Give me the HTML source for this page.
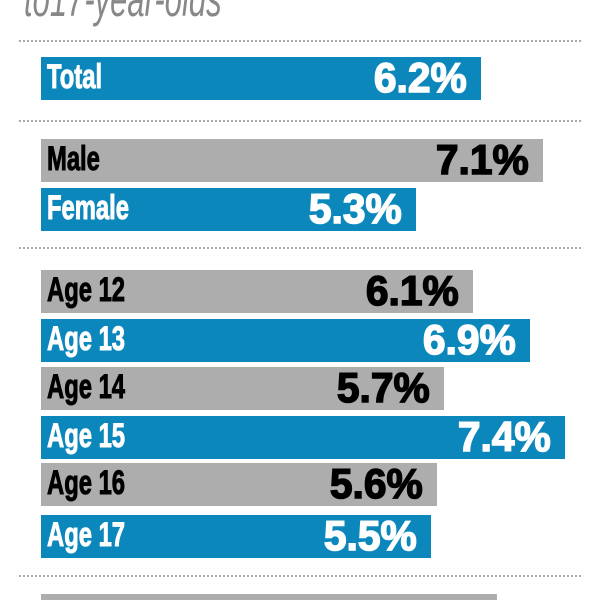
<!DOCTYPE html>
<html><head><style>
html,body{margin:0;width:600px;height:600px;overflow:hidden}
body{background:#fff;position:relative;font-family:"Liberation Sans",sans-serif}
.t{position:absolute;left:24px;top:-30px;font-size:50px;font-style:italic;color:#888;transform:scaleX(0.62);transform-origin:left;white-space:nowrap}
.d{position:absolute;left:19px;width:562px;border-top:2px dotted #aaa;height:0}
.b{position:absolute;left:41px;height:43px}
.bl{background:#0b87bb;color:#fff}
.gr{background:#adadad;color:#000}
.l{position:absolute;left:6px;top:1px;font-size:34px;font-weight:bold;transform:scaleX(0.7);transform-origin:left;white-space:nowrap;-webkit-text-stroke:1px currentColor}
.v{position:absolute;right:14px;top:-3px;font-size:42px;font-weight:900;transform:scaleX(0.97);transform-origin:right;white-space:nowrap;-webkit-text-stroke:1.5px currentColor}
</style></head><body>
<div class="t">to17-year-olds</div>
<div class="d" style="top:40px"></div>
<div class="b bl" style="top:57px;width:440px"><span class="l">Total</span><span class="v">6.2%</span></div>
<div class="d" style="top:120px"></div>
<div class="b gr" style="top:139px;width:502px"><span class="l">Male</span><span class="v">7.1%</span></div>
<div class="b bl" style="top:188px;width:375px"><span class="l">Female</span><span class="v">5.3%</span></div>
<div class="d" style="top:247px"></div>
<div class="b gr" style="top:270px;width:432px"><span class="l">Age 12</span><span class="v">6.1%</span></div>
<div class="b bl" style="top:319px;width:489px"><span class="l">Age 13</span><span class="v">6.9%</span></div>
<div class="b gr" style="top:367px;width:403px"><span class="l">Age 14</span><span class="v">5.7%</span></div>
<div class="b bl" style="top:416px;width:524px"><span class="l">Age 15</span><span class="v">7.4%</span></div>
<div class="b gr" style="top:463px;width:396px"><span class="l">Age 16</span><span class="v">5.6%</span></div>
<div class="b bl" style="top:515px;width:390px"><span class="l">Age 17</span><span class="v">5.5%</span></div>
<div class="d" style="top:575px"></div>
<div class="b gr" style="top:594px;width:456px;height:6px"></div>
</body></html>
